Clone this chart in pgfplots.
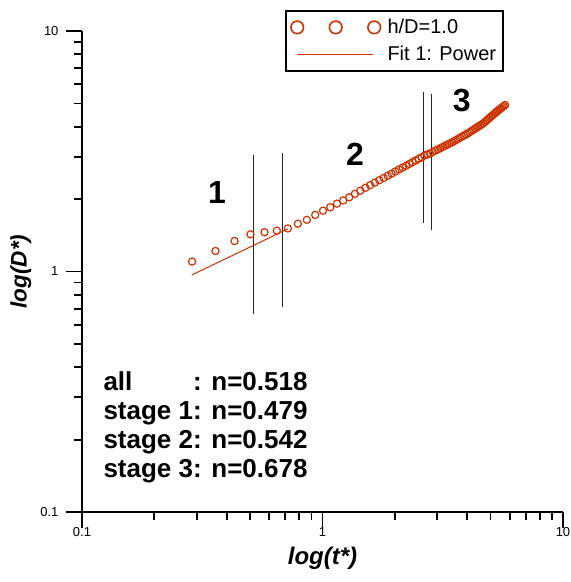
\documentclass[border=0pt]{standalone}
\usepackage{pgfplots}
\usepackage{pgfplotstable}
\pgfplotsset{compat=1.18}
\usepackage{fontspec}
\setmainfont{Liberation Sans}
\definecolor{dred}{RGB}{204,51,0}

\pgfplotsset{
  scatlegend/.style={legend image code/.code={\draw[##1, dred, mark size=6.3pt, every mark/.append style={line width=1.6pt}] plot coordinates {(0pt,0pt) (38.5pt,0pt) (77pt,0pt)};}},
  linelegend/.style={legend image code/.code={\draw[##1, draw=dred, line width=1pt] (0pt,0pt) -- (76pt,0pt);}},
}

\pgfplotstableread{
t D
0.287 1.100
0.359 1.217
0.431 1.339
0.502 1.428
0.574 1.456
0.646 1.479
0.718 1.510
0.790 1.580
0.861 1.640
0.933 1.720
1.005 1.790
1.077 1.850
1.149 1.915
1.220 1.975
1.292 2.035
1.364 2.105
1.436 2.168
1.508 2.228
1.579 2.285
1.651 2.342
1.723 2.397
1.795 2.449
1.867 2.502
1.938 2.554
2.010 2.606
2.082 2.656
2.154 2.706
2.226 2.754
2.297 2.801
2.369 2.849
2.441 2.895
2.513 2.942
2.585 2.987
2.656 3.035
2.728 3.070
2.800 3.095
2.872 3.140
2.944 3.179
3.015 3.217
3.087 3.255
3.159 3.293
3.231 3.330
3.303 3.367
3.374 3.403
3.446 3.441
3.518 3.482
3.590 3.521
3.662 3.561
3.733 3.599
3.805 3.638
3.877 3.676
3.949 3.714
4.021 3.755
4.092 3.797
4.164 3.841
4.236 3.883
4.308 3.926
4.380 3.968
4.451 4.009
4.523 4.051
4.595 4.093
4.667 4.135
4.739 4.191
4.810 4.246
4.882 4.301
4.954 4.356
5.026 4.411
5.098 4.466
5.169 4.519
5.241 4.574
5.313 4.629
5.385 4.679
5.457 4.728
5.528 4.776
5.600 4.825
5.672 4.874
5.744 4.923
}\datatable

\begin{document}
\begin{tikzpicture}
\useasboundingbox (-82pt,-70pt) rectangle (489pt,512pt);
\begin{axis}[
  at={(0pt,0pt)}, anchor=south west,
  width=481pt, height=481pt, scale only axis,
  xmode=log, ymode=log,
  xmin=0.1, xmax=10, ymin=0.1, ymax=10,
  axis x line=bottom, axis y line=left,
  axis line style={-, line width=1.8pt},
  xtick={0.1,1,10}, xticklabels={0.1,1,10},
  ytick={0.1,1,10}, yticklabels={0.1,1,10},
  minor xtick={0.2,0.3,0.4,0.5,0.6,0.7,0.8,0.9,2,3,4,5,6,7,8,9},
  minor ytick={0.2,0.3,0.4,0.5,0.6,0.7,0.8,0.9,2,3,4,5,6,7,8,9},
  tick align=outside,
  major tick length=16pt, minor tick length=8pt,
  every tick/.style={black, line width=1.8pt},
  tick label style={font=\fontsize{13}{15}\selectfont},
  xticklabel style={yshift=4pt},
  yticklabel style={xshift=-4pt},
  /pgf/number format/assume math mode=true,
  xlabel={\textbf{\textit{log(t*)}}},
  xlabel style={font=\fontsize{24}{28}\selectfont, at={(axis description cs:0.5,-0.1091)}, anchor=base},
  ylabel={\textbf{\textit{log(D*)}}},
  ylabel style={font=\fontsize{22.5}{26}\selectfont, at={(axis description cs:-0.1274,0.5)}, anchor=center},
  legend style={at={(axis description cs:0.8773,1.0437)}, anchor=north east,
    draw=black, line width=1.8pt, font=\fontsize{20}{22}\selectfont,
    inner xsep=5pt, inner ysep=6.5pt, row sep=7pt, column sep=5pt},
  legend cell align=left,
]
\addplot[forget plot, black!85, line width=0.9pt] coordinates {(0.5176,0.666) (0.5176,3.05)};
\addplot[forget plot, black!85, line width=0.9pt] coordinates {(0.681,0.714) (0.681,3.10)};
\addplot[forget plot, black!85, line width=0.9pt] coordinates {(2.635,1.596) (2.635,5.59)};
\addplot[forget plot, black!85, line width=0.9pt] coordinates {(2.825,1.488) (2.825,5.47)};

\addplot[only marks, mark=o, color=dred, mark size=3.6pt, mark options={line width=1.2pt}, scatlegend]
  table[x=t, y=D] {\datatable};
\addlegendentry{h/D=1.0}

\addplot[dred, line width=1pt, mark=none, linelegend]
  coordinates {(0.286,0.967) (0.720,1.506)};
\addlegendentry{Fit 1: Power}

\node[font=\bfseries\fontsize{32}{36}\selectfont, inner sep=0pt] at (axis description cs:0.2807,0.6653) {1};
\node[font=\bfseries\fontsize{32}{36}\selectfont, inner sep=0pt] at (axis description cs:0.5676,0.7443) {2};
\node[font=\bfseries\fontsize{32}{36}\selectfont, inner sep=0pt] at (axis description cs:0.7894,0.8565) {3};

\node[anchor=base west, inner sep=0pt, font=\bfseries\fontsize{26}{29}\selectfont] at (axis description cs:0.0443,0.2516)
 {\begin{tabular}[t]{@{}l@{}l@{}}all & : n=0.518\\ stage 1& : n=0.479\\ stage 2& : n=0.542\\ stage 3& : n=0.678\end{tabular}};
\end{axis}
\end{tikzpicture}
\end{document}
